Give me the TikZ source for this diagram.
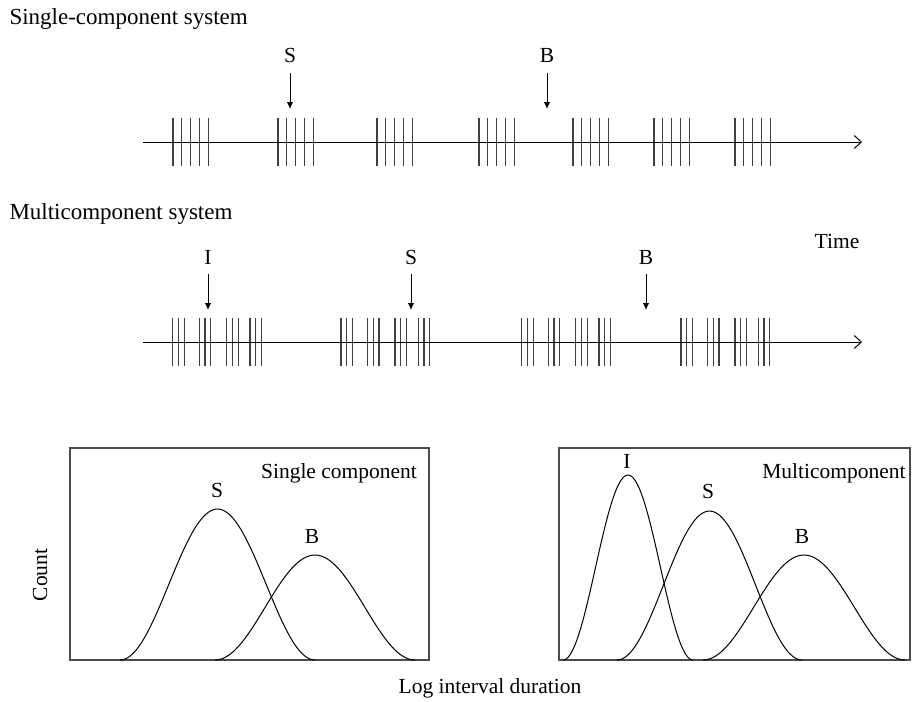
\documentclass[tikz,border=0pt]{standalone}
\usepackage{fontspec}
\setmainfont{Liberation Serif}
\usetikzlibrary{arrows.meta}

\begin{document}
\begin{tikzpicture}[x=1pt, y=-1pt, line width=1pt,
  every node/.style={font=\fontsize{21.5}{25}\selectfont, inner sep=0pt},
  heading/.style={anchor=base west, font=\fontsize{23}{27}\selectfont},
  tick/.style={line width=1.2pt, black!75},
  pointer/.style={-{Latex[length=7pt,width=6.5pt]}},
  timeaxis/.style={-{Straight Barb[length=7pt,width=13pt]}},
  frame/.style={line width=1.4pt, black!70}]
\useasboundingbox (0,0) rectangle (912,701);
%
%% single-component system
\node[heading] (hsingle) at (9,25) {Single-component system};
\coordinate (a0) at (143,142);
\coordinate (a1) at (862,142);
\foreach\s in {173,278,377,479,573,654,735}
  \foreach\k in {0,1,2,3,4}
    {
    \draw[tick] (\s+8.8*\k, 118) -- (\s+8.8*\k, 166);
    }
\draw[timeaxis] (a0) -- (a1);
% arrows S and B
\node[anchor=base] (s1) at (290,63) {S};
\node[anchor=base] (b1) at (547,63) {B};
\coordinate (ts1) at (290,109);
\coordinate (tb1) at (547,109);
\draw[pointer] (s1.south) ++(0,9) -- (ts1);
\draw[pointer] (b1.south) ++(0,9) -- (tb1);
%
%% multicomponent system
\node[heading] (hmulti) at (9,219) {Multicomponent system};
\node (time) at (837,241) {Time};
\coordinate (m0) at (143,342);
\coordinate (m1) at (862,342);
\foreach\s in {172.7,341,521.7,681}
  \foreach\t in {0,26.5,54,77.3}
    \foreach\k in {0,1,2}
      {
      \draw[tick] (\s+\t+5.7*\k, 318) -- (\s+\t+5.7*\k, 366);
      }
\draw[timeaxis] (m0) -- (m1);
% arrows I, S and B
\node[anchor=base] (i2) at (208,264) {I};
\node[anchor=base] (s2) at (411,264) {S};
\node[anchor=base] (b2) at (646,264) {B};
\coordinate (ti2) at (208,310);
\coordinate (ts2) at (411,310);
\coordinate (tb2) at (646,310);
\draw[pointer] (i2.south) ++(0,9) -- (ti2);
\draw[pointer] (s2.south) ++(0,9) -- (ts2);
\draw[pointer] (b2.south) ++(0,9) -- (tb2);
%
%% histograms (bell = raised cosine)
\def\base{660}
\draw[frame] (70,448) rectangle (429,\base);
\draw[frame] (559,448) rectangle (910,\base);
\node (lsingle) at (339,473) {Single component};
\node (lmulti) at (834,473) {Multicomponent};
% left panel
\draw plot[domain=0:1, samples=80] ({120+195*\x}, {\base-151*(sin(180*\x))^2});
\draw plot[domain=0:1, samples=80] ({215+200*\x}, {\base-105*(sin(180*\x))^2});
\node[anchor=base] (s3) at (217,497) {S};
\node[anchor=base] (b3) at (312,543) {B};
% right panel
\draw plot[domain=0:1, samples=80] ({563+130*\x}, {\base-185*(sin(180*\x))^2});
\draw plot[domain=0:1, samples=80] ({617+185*\x}, {\base-149*(sin(180*\x))^2});
\draw plot[domain=0:1, samples=80] ({703+202*\x}, {\base-105*(sin(180*\x))^2});
\node[anchor=base] (i4) at (627,468) {I};
\node[anchor=base] (s4) at (708,498) {S};
\node[anchor=base] (b4) at (802,543) {B};
% axis titles
\node[rotate=90] (count) at (40,575) {Count};
\node (logdur) at (490,688) {Log interval duration};
\end{tikzpicture}
\end{document}
